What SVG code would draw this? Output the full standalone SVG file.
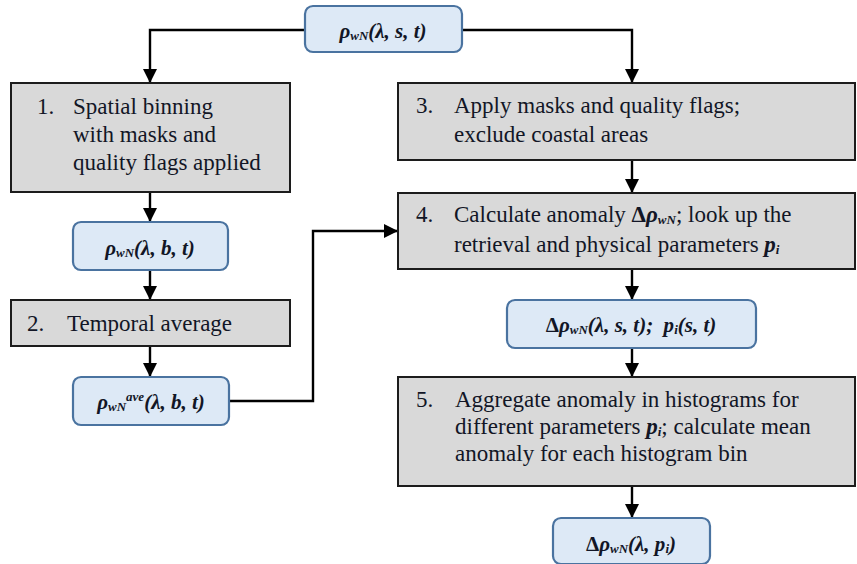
<svg xmlns="http://www.w3.org/2000/svg" width="857" height="564" viewBox="0 0 857 564">
<style>
.box{fill:#d9d9d9;stroke:#1c1c1c;stroke-width:2}
.node{fill:#dde9f6;stroke:#4a73a0;stroke-width:2.2}
text{font-family:"Liberation Serif","Times New Roman",serif}
.t{font-size:23px;fill:#121626}
.m{font-size:21px;font-style:italic;font-weight:bold;fill:#121626}
.s{font-size:13px}
.bi{font-style:italic;font-weight:bold}
.up{font-style:normal}
.c{fill:none;stroke:#000;stroke-width:2.4}
</style>
<defs>
<marker id="ah" markerUnits="userSpaceOnUse" markerWidth="14" markerHeight="14" viewBox="0 0 14 14" refX="13" refY="7" orient="auto">
<path d="M0,0 L14,7 L0,14 Z" fill="#000"/>
</marker>
</defs>
<g id="connectors">
<path class="c" d="M305,30 H150 V82" marker-end="url(#ah)"/>
<path class="c" d="M462,30 H632 V82" marker-end="url(#ah)"/>
<path class="c" d="M150,192 V221" marker-end="url(#ah)"/>
<path class="c" d="M150,270 V299" marker-end="url(#ah)"/>
<path class="c" d="M150,346 V376" marker-end="url(#ah)"/>
<path class="c" d="M229,401 H313 V231 H397" marker-end="url(#ah)"/>
<path class="c" d="M632,160 V192" marker-end="url(#ah)"/>
<path class="c" d="M632,269 V299" marker-end="url(#ah)"/>
<path class="c" d="M632,348 V376" marker-end="url(#ah)"/>
<path class="c" d="M632,486 V517" marker-end="url(#ah)"/>
</g>
<g id="n0">
<rect class="node" x="305" y="6" width="157" height="46" rx="8"/>
<text class="m" x="383" y="38" text-anchor="middle">ρ<tspan class="s" dy="2">wN</tspan><tspan dy="-2">(λ, s, t)</tspan></text>
</g>
<g id="step1">
<rect class="box" x="11" y="83" width="279" height="109"/>
<text class="t" x="37" y="114">1.</text>
<text class="t" x="73" y="114">Spatial binning</text>
<text class="t" x="73" y="142">with masks and</text>
<text class="t" x="73" y="170">quality flags applied</text>
</g>
<g id="n1">
<rect class="node" x="73" y="222" width="155" height="48" rx="8"/>
<text class="m" x="150" y="255" text-anchor="middle">ρ<tspan class="s" dy="2">wN</tspan><tspan dy="-2">(λ, b, t)</tspan></text>
</g>
<g id="step2">
<rect class="box" x="11" y="300" width="279" height="46"/>
<text class="t" x="27" y="331">2.</text>
<text class="t" x="67" y="331">Temporal average</text>
</g>
<g id="n2">
<rect class="node" x="73" y="377" width="156" height="48" rx="8"/>
<text class="m" x="151" y="409" text-anchor="middle">ρ<tspan class="s" dy="2">wN</tspan><tspan class="s" dy="-10">ave</tspan><tspan dy="8">(λ, b, t)</tspan></text>
</g>
<g id="step3">
<rect class="box" x="398" y="83" width="457" height="77"/>
<text class="t" x="416" y="113">3.</text>
<text class="t" x="454" y="113">Apply masks and quality flags;</text>
<text class="t" x="454" y="142">exclude coastal areas</text>
</g>
<g id="step4">
<rect class="box" x="398" y="193" width="457" height="76"/>
<text class="t" x="416" y="222">4.</text>
<text class="t" x="454" y="222">Calculate anomaly <tspan class="bi"><tspan class="up">Δ</tspan>ρ</tspan><tspan class="bi s" dy="2">wN</tspan><tspan dy="-2">; look up the</tspan></text>
<text class="t" x="454" y="252">retrieval and physical parameters <tspan class="bi">p</tspan><tspan class="bi s" dy="2">i</tspan></text>
</g>
<g id="n3">
<rect class="node" x="507" y="300" width="249" height="48" rx="8"/>
<text class="m" x="631" y="332" text-anchor="middle"><tspan class="up">Δ</tspan>ρ<tspan class="s" dy="2">wN</tspan><tspan dy="-2">(λ, s, t);&#160; p</tspan><tspan class="s" dy="2">i</tspan><tspan dy="-2">(s, t)</tspan></text>
</g>
<g id="step5">
<rect class="box" x="398" y="377" width="457" height="109"/>
<text class="t" x="416" y="407">5.</text>
<text class="t" x="455" y="407">Aggregate anomaly in histograms for</text>
<text class="t" x="455" y="434">different parameters <tspan class="bi">p</tspan><tspan class="bi s" dy="2">i</tspan><tspan dy="-2">; calculate mean</tspan></text>
<text class="t" x="455" y="461">anomaly for each histogram bin</text>
</g>
<g id="n4">
<rect class="node" x="553" y="518" width="157" height="46" rx="8"/>
<text class="m" x="631" y="551" text-anchor="middle"><tspan class="up">Δ</tspan>ρ<tspan class="s" dy="2">wN</tspan><tspan dy="-2">(λ, p</tspan><tspan class="s" dy="2">i</tspan><tspan dy="-2">)</tspan></text>
</g>
</svg>
